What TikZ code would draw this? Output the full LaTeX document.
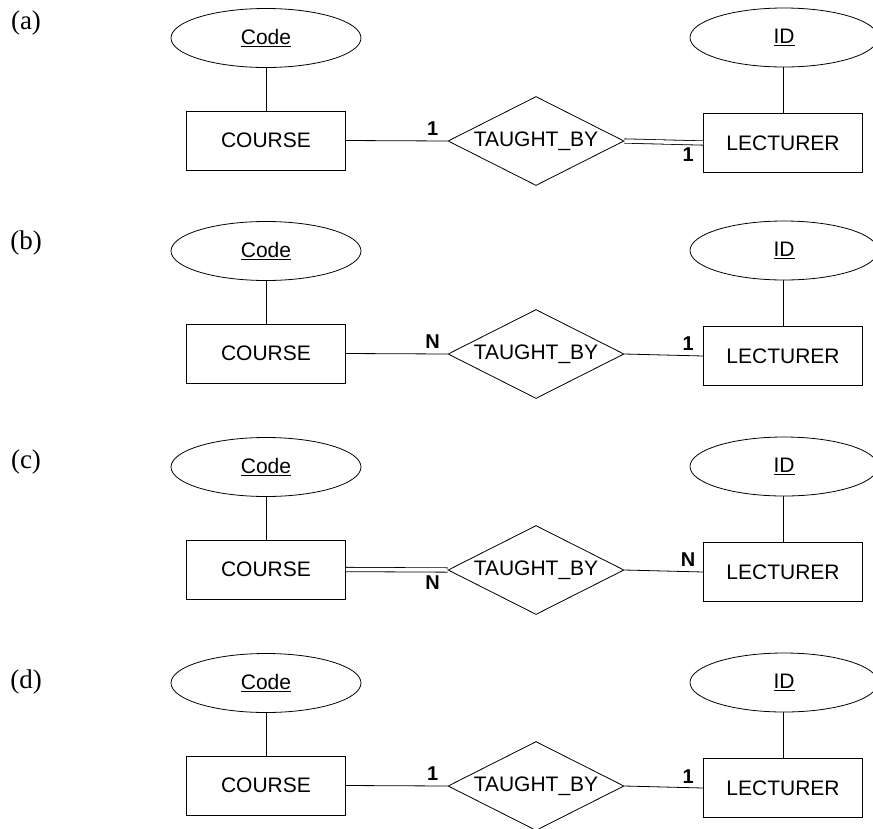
\documentclass[tikz,border=0pt]{standalone}
\usepackage{fontspec}
\setmainfont{Liberation Sans}
\newfontfamily\tagfont{Liberation Serif}
\usetikzlibrary{shapes.geometric}

\begin{document}
\begin{tikzpicture}[x=1pt,y=-1pt,line width=0.8pt,
    entity/.style={draw,minimum width=159pt,minimum height=59pt,inner sep=0pt,font=\fontsize{21}{24}\selectfont},
    attrib/.style={draw,ellipse,minimum height=59pt,inner sep=0pt,font=\fontsize{21}{24}\selectfont},
    rel/.style={draw,diamond,aspect=2,minimum width=176pt,minimum height=89pt,inner sep=0pt,font=\fontsize{21}{24}\selectfont},
    card/.style={inner sep=0pt,font=\bfseries\fontsize{20}{22}\selectfont},
    total/.style={double,double distance=3.5pt}]
\useasboundingbox (0,0) rectangle (873,828);
\foreach \p/\dy/\ty/\cl/\cr/\sl/\sr/\ll/\lr in {a/0/23.5/1/1/12pt/-12pt/solid/total,
    b/213/243/N/1/12pt/12pt/solid/solid,
    c/429/462/N/N/-13pt/12pt/total/solid,
    d/645/682/1/1/12pt/11pt/solid/solid}{
  \node[font=\tagfont\fontsize{27}{30}\selectfont,inner sep=0pt] (tag\p) at (26,\ty) {(\p)};
  \node[entity] (course\p) at (266,140.5+\dy) {COURSE};
  \node[attrib,minimum width=190pt] (code\p) at (266,38+\dy) {\underline{Code}};
  \node[rel] (taught\p) at (536,141+\dy) {TAUGHT\_BY};
  \node[entity] (lect\p) at (783,143+\dy) {LECTURER};
  \node[attrib,minimum width=188pt] (id\p) at (784,37.5+\dy) {\underline{ID}};
  \draw (code\p) -- (course\p);
  \draw (lect\p.north) -- (lect\p.north |- id\p.south);
  \draw[\ll] (course\p.east) -- (taught\p.west);
  \draw[\lr] (taught\p.east) -- (lect\p.west);
  \node[card] (cl\p) at ([xshift=-15pt,yshift=\sl]taught\p.west) {\cl};
  \node[card] (cr\p) at ([xshift=-15pt,yshift=\sr]lect\p.west) {\cr};
}
\end{tikzpicture}
\end{document}
